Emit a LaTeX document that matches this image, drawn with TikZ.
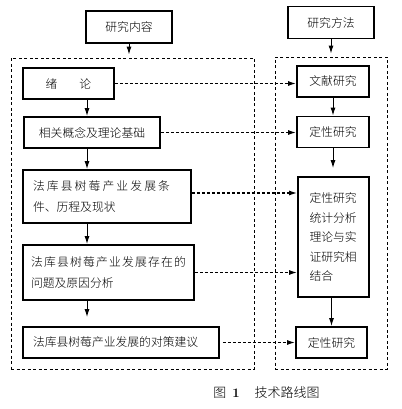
\documentclass[tikz,border=0pt]{standalone}
\usepackage{fontspec}
\usepackage{tikz}
\usetikzlibrary{arrows.meta}
\usetikzlibrary{positioning}
\newfontfamily\cjk{Noto Sans CJK SC}[UprightFont=* Light]
\newcommand\spread[2]{\hbox to #1{\spaceskip=0pt plus 1fil\xspaceskip=0pt plus 1fil\relax #2}}

\begin{document}
\begin{tikzpicture}[x=1pt,y=-1pt,
  box/.style={draw,line width=1.8pt,inner ysep=2pt,font=\cjk\fontsize{11.8}{21}\selectfont},
  dashframe/.style={draw,line width=0.9pt,dash pattern=on 3pt off 2.5pt},
  arr/.style={-{Latex[length=8pt,width=5pt]},line width=1pt},
  darr/.style={arr,line width=1.3pt,dash pattern=on 3.5pt off 1.5pt}]
  \useasboundingbox[fill=white] (0,0) rectangle (401,409);
  \node[box,minimum width=86pt,minimum height=32pt] (nr) at (129,27) {研究内容};
  \node[box,minimum width=86pt,minimum height=32pt] (ff) at (331,22.5) {研究方法};
  \node[dashframe,minimum width=243pt,minimum height=311pt] (lk) at (132.5,213.5) {};
  \node[dashframe,minimum width=112pt,minimum height=312pt] (rk) at (331,213) {};
  \node[box,minimum width=91pt,minimum height=31pt] (xl) at (68.5,83.5) {绪\hspace{22pt}论};
  \node[box,minimum width=136pt,minimum height=31pt] (xg) at (92,132.5) {相关概念及理论基础};
  \node[box,text width=148pt,inner xsep=10pt,minimum height=53pt,align=left] (tj) at (107,196.5)
    {\spread{137pt}{法 库 县 树 莓 产 业 发 展 条}\\件、历程及现状};
  \node[box,text width=155pt,inner xsep=8pt,minimum height=55pt,align=left] (wt) at (108.5,272.5)
    {\spread{155pt}{法 库 县 树 莓 产 业 发 展 存 在 的}\\问题及原因分析};
  \node[box,text width=176pt,inner xsep=10pt,minimum height=31pt,align=left] (dc) at (121,342.5) {法库县树莓产业发展的对策建议};
  \node[box,minimum width=72pt,minimum height=31pt] (wx) at (333,81.5) {文献研究};
  \node[box,minimum width=72pt,minimum height=31pt] (dx) at (333,132) {定性研究};
  \node[box,text width=48pt,inner xsep=11.5pt,minimum height=120pt,align=left,
    font=\cjk\fontsize{11.8}{19.5}\selectfont] (zh) at (333.5,237) {定性研究\\统计分析\\理论与实\\证研究相\\结合};
  \node[box,minimum width=71pt,minimum height=31pt] (dx2) at (331.5,342.5) {定性研究};
  \node[font=\fontsize{13}{15}\selectfont] (tt) at (266.5,393) {{\cjk 图}\hspace{6pt}\textbf{1}\hspace{15pt}{\cjk 技术路线图}};
  \coordinate (lc) at (87,0);
  \draw[arr,shorten >=3pt] (nr.south) -- (nr.south |- lk.north);
  \draw[arr,shorten >=3pt] (ff.south) -- (ff.south |- rk.north);
  \draw[arr] (xl.south -| lc) -- (xg.north -| lc);
  \draw[arr] (xg.south -| lc) -- (tj.north -| lc);
  \draw[arr] (tj.south -| lc) -- (wt.north -| lc);
  \draw[arr,shorten >=9pt] (wt.south -| lc) -- (dc.north -| lc);
  \draw[arr] (wx) -- (dx);
  \draw[arr,shorten >=8pt] (dx.south) -- (dx.south |- zh.north);
  \draw[arr] (zh.south -| dx2) -- (dx2.north);
  \draw[darr] (xl.east) -- (xl.east -| wx.west);
  \draw[darr] (xg.east) -- (xg.east -| dx.west);
  \draw[darr] ([yshift=3.5pt]tj.east) -- ([yshift=3.5pt]tj.east -| zh.west);
  \draw[darr] (wt.east) -- (wt.east -| zh.west);
  \draw[darr,shorten <=3pt] (dc.east) -- (dc.east -| dx2.west);
\end{tikzpicture}
\end{document}
